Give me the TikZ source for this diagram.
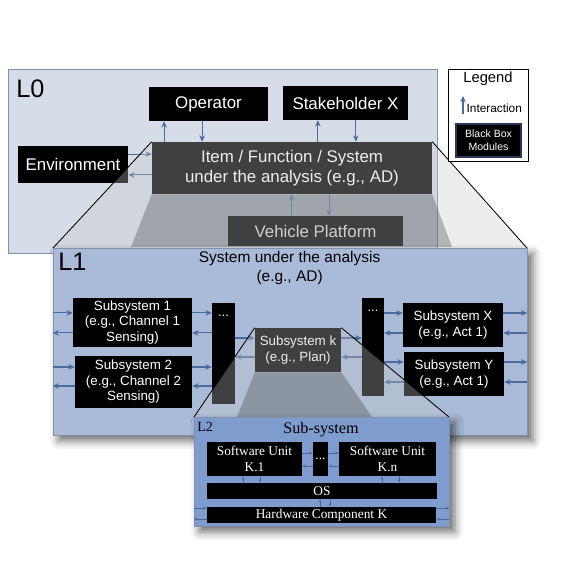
\documentclass[tikz,border=0pt]{standalone}
\usepackage{fontspec}
\setmainfont{Liberation Sans}
\newfontfamily\serifL{Liberation Serif}
\usetikzlibrary{positioning}
\usetikzlibrary{arrows.meta}
\usetikzlibrary{shadows.blur}

\definecolor{levelzero}{RGB}{214,221,233}
\definecolor{levelone}{RGB}{169,187,217}
\definecolor{leveltwo}{RGB}{126,156,206}
\definecolor{frameline}{RGB}{130,145,170}
\definecolor{linkblue}{RGB}{74,107,158}
\definecolor{veil}{RGB}{200,200,200}
\definecolor{navy}{RGB}{40,55,90}

\tikzset{
  blackbox/.style={rectangle, fill=black, text=white, align=center, inner sep=0pt, font=\fontsize{12}{14}\selectfont},
  subbox/.style={blackbox, font=\fontsize{9.5}{11}\selectfont},
  unitbox/.style={blackbox, font=\serifL\fontsize{9.5}{11}\selectfont},
  link/.style={draw=linkblue, line width=0.8pt, -{Stealth[length=4.5pt,width=4pt]}},
  tinylink/.style={draw=linkblue, line width=0.45pt, -{Stealth[length=2.5pt,width=2pt]}},
  frame/.style={draw=frameline, line width=0.5pt, inner sep=0pt},
  veilfill/.style={fill=veil, fill opacity=0.32},
  funnel/.style={fill=black, fill opacity=0.33},
  zoomline/.style={draw=black, line width=0.6pt},
  levellabel/.style={font=\fontsize{18}{18}\selectfont, anchor=west, inner sep=0pt},
  dropshade/.style={blur shadow={shadow xshift=4pt, shadow yshift=-4pt, shadow blur radius=6pt, shadow opacity=60}},
}

\begin{document}
\begin{tikzpicture}
\useasboundingbox (0,0) rectangle (14.25,14.575);

% level 0
\draw[frame, fill=levelzero] (0.2,8.25) rectangle (10.925,12.85);
\node[levellabel] (lzero) at (0.4,12.36) {L0};

\node[blackbox, minimum width=2.975cm, minimum height=0.85cm] (op) at (5.2125,11.975) {Operator};
\node[blackbox, minimum width=3.125cm, minimum height=0.85cm] (sh) at (8.6375,12.0) {Stakeholder X};
\node[blackbox, minimum width=2.75cm, minimum height=0.925cm] (env) at (1.825,10.4625) {Environment};
\node[blackbox, minimum width=7cm, minimum height=1.3cm] (item) at (7.3,10.375) {Item / Function / System\\under the analysis (e.g., AD)};
\fill[funnel] (item.south west) -- (item.south east) -- (11.3,8.4) -- (3.275,8.4) -- cycle;
\node[blackbox, text=gray!35, minimum width=4.375cm, minimum height=0.75cm] (vp) at (7.8875,8.8) {Vehicle Platform};

\draw[link] ([xshift=-1.11cm]op.south |- item.north) -- ([xshift=-1.11cm]op.south);
\draw[link] ([xshift=-0.16cm]op.south) -- ([xshift=-0.16cm]op.south |- item.north);
\draw[link] ([xshift=-0.69cm]sh.south |- item.north) -- ([xshift=-0.69cm]sh.south);
\draw[link] ([xshift=0.26cm]sh.south) -- ([xshift=0.26cm]sh.south |- item.north);
\draw[link] ([yshift=0.26cm]env.east) -- ([yshift=0.26cm]env.east -| item.west);
\draw[link] ([yshift=-0.26cm]env.east -| item.west) -- ([yshift=-0.26cm]env.east);
\draw[link] ([xshift=-0.59cm]vp.north) -- ([xshift=-0.59cm]vp.north |- item.south);
\draw[link] ([xshift=0.34cm]vp.north |- item.south) -- ([xshift=0.34cm]vp.north);

% zoom into level 1
\coordinate (l1nw) at (1.325,8.375);
\coordinate (l1ne) at (13.175,8.375);
\fill[veilfill] (item.north west) -- (item.north east) -- (l1ne) -- (l1nw) -- cycle;
\draw[zoomline] (item.north west) -- (l1nw) (item.north east) -- (l1ne);

% legend
\node[draw=black, line width=0.6pt, fill=white, minimum width=2cm, minimum height=2.3cm] (legend) at (12.2,11.7) {};
\node[font=\fontsize{10.5}{12}\selectfont] (legendtitle) at (12.2,12.6) {Legend};
\coordinate (tipbase) at (11.575,11.725);
\coordinate (tiptop) at (11.575,12.175);
\draw[link] (tipbase) -- (tiptop);
\node[font=\fontsize{8.4}{10}\selectfont, anchor=west, inner sep=0pt] (interaction) at (11.66,11.875) {Interaction};
\node[blackbox, draw=navy, line width=0.8pt, font=\fontsize{7.5}{9}\selectfont, minimum width=1.625cm, minimum height=0.825cm] (bbm) at (12.2125,11.0625) {Black Box\\Modules};

% level 1
\node[frame, fill=levelone, dropshade, minimum width=11.85cm, minimum height=4.675cm] (lone) at (7.25,6.0375) {};
\node[levellabel] (lonelabel) at (1.45,8.04) {L1};
\node[font=\fontsize{11}{13}\selectfont, align=center] (lonetitle) at (7.24,7.875) {System under the analysis\\(e.g., AD)};

\node[subbox, minimum width=2.975cm, minimum height=1.225cm] (sub1) at (3.3125,6.5125) {Subsystem 1\\(e.g., Channel 1\\Sensing)};
\node[subbox, minimum width=2.925cm, minimum height=1.3cm] (sub2) at (3.3375,5.025) {Subsystem 2\\(e.g., Channel 2\\Sensing)};
\node[subbox, minimum width=0.575cm, minimum height=2.525cm] (bar1) at (5.5875,5.7375) {};
\node[text=white, font=\fontsize{9}{9}\selectfont] (dots1) at (5.5875,6.675) {...};
\node[subbox, minimum width=2.15cm, minimum height=1.1cm] (sk) at (7.45,5.825) {Subsystem k\\(e.g., Plan)};
\node[subbox, minimum width=0.55cm, minimum height=2.45cm] (bar2) at (9.325,5.9) {};
\node[text=white, font=\fontsize{9}{9}\selectfont] (dots2) at (9.325,6.8) {...};
\node[subbox, minimum width=2.5cm, minimum height=1.1cm] (subx) at (11.325,6.45) {Subsystem X\\(e.g., Act 1)};
\node[subbox, minimum width=2.5cm, minimum height=1.1cm] (suby) at (11.35,5.225) {Subsystem Y\\(e.g., Act 1)};
\fill[funnel] (sk.south west) -- (sk.south east) -- (9.3,4.15) -- (5.925,4.15) -- cycle;

\draw[link] ([yshift=0.24cm]sub1.west -| lone.west) -- ([yshift=0.24cm]sub1.west);
\draw[link] ([yshift=-0.26cm]sub1.west) -- ([yshift=-0.26cm]sub1.west -| lone.west);
\draw[link] ([yshift=0.375cm]sub2.west -| lone.west) -- ([yshift=0.375cm]sub2.west);
\draw[link] ([yshift=-0.1cm]sub2.west) -- ([yshift=-0.1cm]sub2.west -| lone.west);
\draw[link] ([yshift=0.24cm]sub1.east) -- ([yshift=0.24cm]sub1.east -| bar1.west);
\draw[link] ([yshift=-0.26cm]sub1.east -| bar1.west) -- ([yshift=-0.26cm]sub1.east);
\draw[link] ([yshift=0.375cm]sub2.east) -- ([yshift=0.375cm]sub2.east -| bar1.west);
\draw[link] ([yshift=-0.1cm]sub2.east -| bar1.west) -- ([yshift=-0.1cm]sub2.east);
\draw[link] ([yshift=0.3cm]sk.west -| bar1.east) -- ([yshift=0.3cm]sk.west);
\draw[link] ([yshift=-0.175cm]sk.west) -- ([yshift=-0.175cm]sk.west -| bar1.east);
\draw[link] ([yshift=0.3cm]sk.east) -- ([yshift=0.3cm]sk.east -| bar2.west);
\draw[link] ([yshift=-0.175cm]sk.east -| bar2.west) -- ([yshift=-0.175cm]sk.east);
\draw[link] ([yshift=0.3cm]subx.west -| bar2.east) -- ([yshift=0.3cm]subx.west);
\draw[link] ([yshift=-0.2cm]subx.west) -- ([yshift=-0.2cm]subx.west -| bar2.east);
\draw[link] ([yshift=0.3cm]suby.west -| bar2.east) -- ([yshift=0.3cm]suby.west);
\draw[link] ([yshift=-0.2cm]suby.west) -- ([yshift=-0.2cm]suby.west -| bar2.east);
\draw[link] ([yshift=0.3cm]subx.east) -- ([yshift=0.3cm]subx.east -| lone.east);
\draw[link] ([yshift=-0.2cm]subx.east -| lone.east) -- ([yshift=-0.2cm]subx.east);
\draw[link] ([yshift=0.3cm]suby.east) -- ([yshift=0.3cm]suby.east -| lone.east);
\draw[link] ([yshift=-0.2cm]suby.east -| lone.east) -- ([yshift=-0.2cm]suby.east);

% zoom into level 2
\coordinate (l2nw) at (4.85,4.15);
\coordinate (l2ne) at (11.225,4.15);
\fill[veilfill] (sk.north west) -- (sk.north east) -- (l2ne) -- (l2nw) -- cycle;
\draw[zoomline] (sk.north west) -- (l2nw) (sk.north east) -- (l2ne);

% level 2
\node[frame, fill=leveltwo, dropshade, minimum width=6.375cm, minimum height=2.725cm] (ltwo) at (8.0375,2.7875) {};
\node[font=\serifL\fontsize{10}{12}\selectfont, anchor=west, inner sep=0pt] (ltwolabel) at (4.925,3.9) {L2};
\node[font=\serifL\fontsize{11.5}{13}\selectfont] (ltwotitle) at (8.025,3.825) {Sub-system};

\node[unitbox, minimum width=2.375cm, minimum height=0.85cm] (k1) at (6.3625,3.1) {Software Unit\\K.1};
\node[unitbox, minimum width=0.375cm, minimum height=0.85cm] (kdots) at (8.0125,3.1) {...};
\node[unitbox, minimum width=2.425cm, minimum height=0.85cm] (kn) at (9.6875,3.1) {Software Unit\\K.n};
\node[unitbox, minimum width=5.75cm, minimum height=0.4cm] (os) at (8.05,2.3) {OS};
\node[unitbox, minimum width=5.725cm, minimum height=0.4cm] (hw) at (8.0375,1.7) {Hardware Component K};

\draw[tinylink] ([yshift=0.15cm]k1.east) -- ([yshift=0.15cm]k1.east -| kdots.west);
\draw[tinylink] ([yshift=-0.175cm]kdots.west) -- ([yshift=-0.175cm]kdots.west -| k1.east);
\draw[tinylink] ([yshift=0.15cm]kdots.east) -- ([yshift=0.15cm]kdots.east -| kn.west);
\draw[tinylink] ([yshift=-0.175cm]kn.west) -- ([yshift=-0.175cm]kn.west -| kdots.east);
\draw[tinylink] ([xshift=-0.29cm]k1.south |- os.north) -- ([xshift=-0.29cm]k1.south);
\draw[tinylink] ([xshift=0.14cm]k1.south) -- ([xshift=0.14cm]k1.south |- os.north);
\draw[tinylink] ([xshift=-0.14cm]kn.south |- os.north) -- ([xshift=-0.14cm]kn.south);
\draw[tinylink] ([xshift=0.29cm]kn.south) -- ([xshift=0.29cm]kn.south |- os.north);
\draw[tinylink] ([xshift=-0.05cm]os.south |- hw.north) -- ([xshift=-0.05cm]os.south);
\draw[tinylink] ([xshift=0.2cm]os.south) -- ([xshift=0.2cm]os.south |- hw.north);
\draw[tinylink] ([yshift=0.175cm]hw.west -| ltwo.west) -- ([yshift=0.175cm]hw.west);
\draw[tinylink] ([yshift=-0.1cm]hw.west) -- ([yshift=-0.1cm]hw.west -| ltwo.west);
\draw[tinylink] ([yshift=0.175cm]hw.east) -- ([yshift=0.175cm]hw.east -| ltwo.east);
\draw[tinylink] ([yshift=-0.1cm]hw.east -| ltwo.east) -- ([yshift=-0.1cm]hw.east);

\end{tikzpicture}
\end{document}
